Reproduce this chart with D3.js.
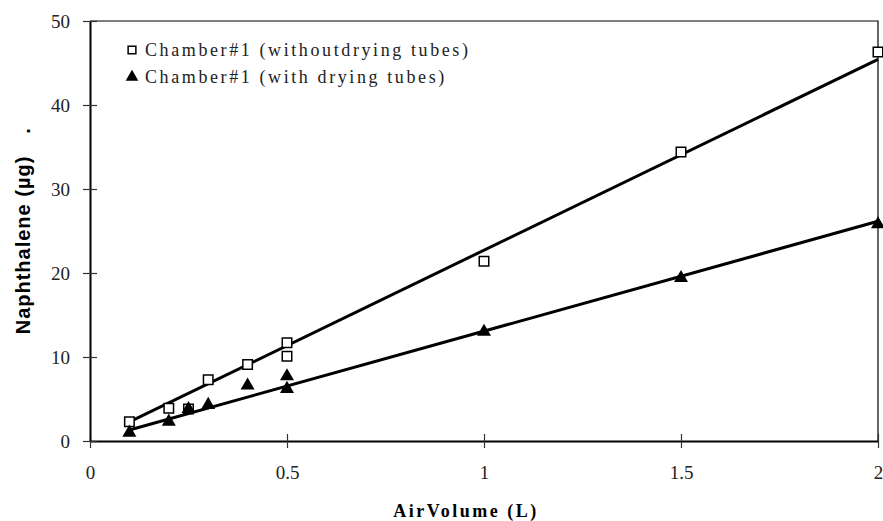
<!DOCTYPE html>
<html>
<head>
<meta charset="utf-8">
<script src="https://cdn.jsdelivr.net/npm/d3@7"></script>
<style>
	body { margin: 0; background: #fff; }
	svg { display: block; }
</style>
</head>
<body>
<div id="chart"></div>
<script>
const xValues = [0.1, 0.2, 0.25, 0.3, 0.4, 0.5, 0.5, 1, 1.5, 2];
const withoutDrying = [2.3, 3.9, 3.8, 7.3, 9.1, 11.7, 10.1, 21.4, 34.4, 46.3];
const withDrying = [1.0, 2.3, 3.8, 4.3, 6.6, 7.7, 6.2, 13.0, 19.4, 25.8];
const seriesNames = ['Chamber#1 (withoutdrying tubes)', 'Chamber#1 (with drying tubes)'];
const xTicks = [0, 0.5, 1, 1.5, 2];
const yTicks = [0, 10, 20, 30, 40, 50];

const width = 883;
const height = 521;
const margin = { top: 21, right: 5, bottom: 80, left: 90 };

const svg = d3.select('#chart').append('svg')
	.attr('width', width)
	.attr('height', height);

svg.append('rect').attr('width', width).attr('height', height).attr('fill', '#fff');

const x = d3.scaleLinear().domain([0, 2]).range([margin.left, width - margin.right]);
const y = d3.scaleLinear().domain([0, 50]).range([height - margin.bottom, margin.top]);

const serif = '"Liberation Serif", "DejaVu Serif", serif';

// plot frame (top and right)
svg.append('path')
	.attr('d', `M${x(0)},${y(50)}H${x(2)}V${y(0)}`)
	.attr('fill', 'none')
	.attr('stroke', '#000')
	.attr('stroke-width', 1.2);

// axes
const xAxis = d3.axisBottom(x)
	.tickValues(xTicks)
	.tickFormat((d) => String(d))
	.tickSizeInner(7)
	.tickSizeOuter(0)
	.tickPadding(18);

const yAxis = d3.axisLeft(y)
	.tickValues(yTicks)
	.tickFormat((d) => String(d))
	.tickSizeInner(7)
	.tickSizeOuter(0)
	.tickPadding(13);

const gx = svg.append('g')
	.attr('transform', `translate(0,${y(0)})`)
	.call(xAxis);

const gy = svg.append('g')
	.attr('transform', `translate(${x(0)},0)`)
	.call(yAxis);

[gx, gy].forEach((g) => {
	g.select('.domain').attr('stroke', '#000').attr('stroke-width', 2);
	g.selectAll('.tick text')
		.attr('fill', '#222')
		.style('font-family', serif)
		.style('font-size', '19px');
});
gx.selectAll('.tick line').attr('y1', -7).attr('stroke', '#333').attr('stroke-width', 1.2);
gy.selectAll('.tick line').attr('x1', 7).attr('stroke', '#333').attr('stroke-width', 1.2);

// axis titles
svg.append('text')
	.attr('x', 466)
	.attr('y', 517)
	.attr('text-anchor', 'middle')
	.style('font-family', serif)
	.style('font-size', '18px')
	.style('font-weight', 'bold')
	.style('letter-spacing', '2.5px')
	.text('AirVolume (L)');

svg.append('text')
	.attr('transform', 'translate(30,245) rotate(-90)')
	.attr('text-anchor', 'middle')
	.style('font-family', 'Arial, "Liberation Sans", sans-serif')
	.style('font-size', '20px')
	.style('font-weight', 'bold')
	.style('letter-spacing', '1px')
	.text('Naphthalene (µg)');

svg.append('text')
	.attr('transform', 'translate(30,131) rotate(-90)')
	.attr('text-anchor', 'middle')
	.style('font-family', 'Arial, "Liberation Sans", sans-serif')
	.style('font-size', '20px')
	.style('font-weight', 'bold')
	.text('.');

// trend lines through the origin (least squares)
function slopeThroughOrigin(xs, ys) {
	const sxy = d3.sum(xs, (d, i) => d * ys[i]);
	const sxx = d3.sum(xs, (d) => d * d);
	return sxy / sxx;
}

const line = d3.line().x((d) => x(d[0])).y((d) => y(d[1]));
const xMin = d3.min(xValues);
const xMax = d3.max(xValues);

[withoutDrying, withDrying].forEach((ys) => {
	const k = slopeThroughOrigin(xValues, ys);
	svg.append('path')
		.attr('d', line([[xMin, k * xMin], [xMax, k * xMax]]))
		.attr('fill', 'none')
		.attr('stroke', '#000')
		.attr('stroke-width', 3);
});

// markers
const square = d3.symbol().type(d3.symbolSquare).size(90);
const triangle = d3.symbol().type(d3.symbolTriangle).size(85);

svg.selectAll('.sq')
	.data(xValues.map((d, i) => [d, withoutDrying[i]]))
	.enter()
	.append('path')
	.attr('class', 'sq')
	.attr('d', square)
	.attr('transform', (d) => `translate(${x(d[0])},${y(d[1])})`)
	.attr('fill', '#fff')
	.attr('stroke', '#000')
	.attr('stroke-width', 1.5);

svg.selectAll('.tri')
	.data(xValues.map((d, i) => [d, withDrying[i]]))
	.enter()
	.append('path')
	.attr('class', 'tri')
	.attr('d', triangle)
	.attr('transform', (d) => `translate(${x(d[0])},${y(d[1])})`)
	.attr('fill', '#000');

// legend
const legend = svg.append('g');
const legendRows = [
	{ name: seriesNames[0], symbol: d3.symbol().type(d3.symbolSquare).size(60), filled: false, cy: 50 },
	{ name: seriesNames[1], symbol: d3.symbol().type(d3.symbolTriangle).size(70), filled: true, cy: 77 },
];

legendRows.forEach((r) => {
	legend.append('path')
		.attr('d', r.symbol())
		.attr('transform', `translate(132,${r.cy})`)
		.attr('fill', r.filled ? '#000' : '#fff')
		.attr('stroke', r.filled ? 'none' : '#000')
		.attr('stroke-width', 1.5);
	legend.append('text')
		.attr('x', 145)
		.attr('y', r.cy + 6)
		.style('font-family', serif)
		.style('font-size', '18px')
		.style('letter-spacing', '2.6px')
		.attr('fill', '#222')
		.text(r.name);
});
</script>
</body>
</html>
